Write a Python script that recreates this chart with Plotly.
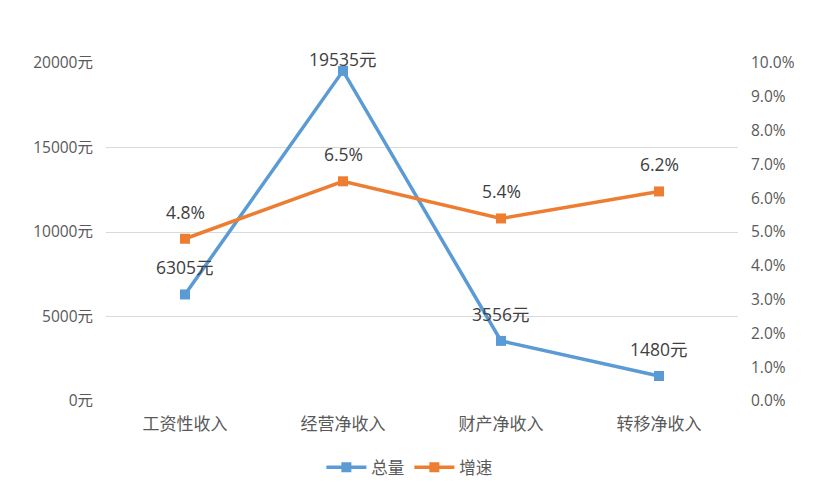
import plotly.graph_objects as go

categories = ["工资性收入", "经营净收入", "财产净收入", "转移净收入"]
total = [6305, 19535, 3556, 1480]
growth = [4.8, 6.5, 5.4, 6.2]
left_ticks = [0, 5000, 10000, 15000, 20000]
left_labels = [f"{v}元" for v in left_ticks]
right_ticks = [i for i in range(0, 11)]
right_labels = [f"{v:.1f}%" for v in right_ticks]

FONT = "Open Sans, Noto Sans CJK SC, sans-serif"
BLUE = "#5B9BD5"
ORANGE = "#ED7D31"

fig = go.Figure()
fig.add_trace(go.Scatter(
    x=categories, y=total, name="总量", mode="lines+markers",
    line=dict(color=BLUE, width=3.5),
    marker=dict(symbol="square", size=10, color=BLUE),
    yaxis="y"))
fig.add_trace(go.Scatter(
    x=categories, y=growth, name="增速", mode="lines+markers",
    line=dict(color=ORANGE, width=3.5),
    marker=dict(symbol="square", size=10, color=ORANGE),
    yaxis="y2"))

annotations = []
for c, v in zip(categories, total):
    shift = 12 if v > 18000 else 27
    annotations.append(dict(x=c, y=v, xref="x", yref="y", text=f"{v}元",
                            showarrow=False, yshift=shift,
                            font=dict(family=FONT, size=17.5, color="#404040")))
for c, v in zip(categories, growth):
    annotations.append(dict(x=c, y=v, xref="x", yref="y2", text=f"{v:.1f}%",
                            showarrow=False, yshift=27,
                            font=dict(family=FONT, size=17.5, color="#404040")))

fig.update_layout(
    width=835, height=500,
    margin=dict(l=106, r=97, t=63, b=99),
    paper_bgcolor="white", plot_bgcolor="white",
    font=dict(family=FONT, color="#595959", size=15.5),
    showlegend=True,
    legend=dict(orientation="h", x=0.48, xanchor="center", y=-0.145, yanchor="top",
                font=dict(family=FONT, size=16.5, color="#595959"),
                itemwidth=40),
    xaxis=dict(range=[-0.5, 3.5], showgrid=False, zeroline=False, showline=False,
               ticks="", tickfont=dict(size=17, color="#595959"), ticklabelstandoff=11),
    yaxis=dict(range=[0, 20000], tickvals=left_ticks, ticktext=left_labels,
               showgrid=True, gridcolor="#D9D9D9", gridwidth=1.3, zeroline=False,
               showline=False, ticks="", ticklabelstandoff=12,
               tickfont=dict(size=15.5, color="#595959")),
    yaxis2=dict(range=[0, 10], tickvals=right_ticks, ticktext=right_labels,
                overlaying="y", side="right", showgrid=False, zeroline=False,
                showline=False, ticks="", ticklabelstandoff=12,
                tickfont=dict(size=15.5, color="#595959")),
    annotations=annotations,
)

fig.write_html("out.html")
